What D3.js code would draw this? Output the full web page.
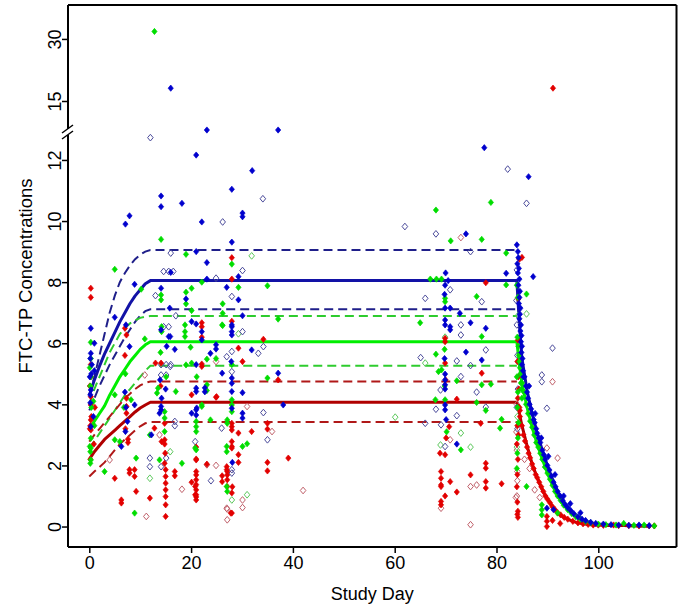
<!DOCTYPE html>
<html><head><meta charset="utf-8">
<script src="https://cdn.jsdelivr.net/npm/d3@7"></script>
<style>body{margin:0;background:#fff}</style>
</head><body>
<svg id="c" width="687" height="612"></svg>
<script>
// ---------- data ----------
const xTicks = [0, 20, 40, 60, 80, 100];
const yTicks = [0, 2, 4, 6, 8, 10, 12, 15, 30];

const riseDays = [0,1,2,3,4,5,6,7,8,9,10,11,12];
const blueMid  = [4.3,4.8,5.25,5.65,6.0,6.35,6.7,7.0,7.3,7.55,7.75,7.95,8.05];
const blueHi   = [4.3,4.9,5.6,6.3,7.0,7.55,8.0,8.3,8.55,8.75,8.9,9.0,9.05];
const blueLo   = [3.8,4.2,4.6,4.95,5.3,5.6,5.9,6.2,6.45,6.7,6.9,7.05,7.11];
const greenMid = [3.2,3.45,3.7,3.95,4.3,4.6,4.9,5.15,5.4,5.6,5.8,5.95,6.05];
const greenHi  = [4.0,4.5,4.9,5.3,5.7,6.0,6.3,6.5,6.65,6.75,6.83,6.87,6.89];
const greenLo  = [2.55,2.8,3.05,3.3,3.55,3.8,4.05,4.3,4.5,4.7,4.9,5.1,5.26];
const redMid   = [2.2,2.45,2.65,2.85,3.0,3.15,3.3,3.45,3.6,3.75,3.88,3.98,4.07];
const redHi    = [2.78,3.0,3.2,3.4,3.6,3.8,4.0,4.2,4.35,4.5,4.62,4.7,4.75];
const redLo    = [1.64,1.8,1.95,2.1,2.3,2.5,2.7,2.85,3.0,3.15,3.28,3.38,3.42];
const plateauEnd = 84;

const decayDays  = [84,84.5,85,86,87,88,89,90,91,92,93,94,95,96,97,98,99,100,102,105,110];
const blueDecay  = [8.05,6.6,5.5,4.45,3.7,3.05,2.5,2.0,1.55,1.15,0.85,0.62,0.45,0.32,0.22,0.15,0.11,0.08,0.05,0.03,0.02];
const greenDecay = [6.05,5.3,4.7,3.9,3.25,2.7,2.2,1.75,1.35,1.0,0.75,0.54,0.4,0.28,0.2,0.14,0.1,0.07,0.04,0.03,0.02];
const redDecay   = [4.07,3.7,3.3,2.65,2.05,1.6,1.2,0.9,0.65,0.45,0.33,0.24,0.17,0.12,0.09,0.07,0.05,0.05,0.03,0.03,0.02];

const blueFilled = [
[16,18.1],[23.1,12.98],[37.1,12.98],[21,12.16],[32,11.65],[28,11.04],[14.1,10.82],[14.1,10.47],[18.2,10.58],[30.1,10.26],[30.1,10.14],[22.1,9.97],[7.9,10.17],[7.1,9.9],[28,9.31],[21,9.0],[23.1,8.64],[16,8.32],[23.1,8.1],[29.3,8.18],[27,7.83],[19,7.45],[29.3,7.42],[30.1,6.9],[20.1,6.71],[21,6.63],[28,6.6],[8.9,7.93],[14.1,7.8],[5.0,6.85],[0.3,6.49],[0.3,5.67],[7.9,5.89],[14.1,6.44],[15.6,6.22],
[22.1,6.38],[22.1,6.11],[28,6.54],[28,6.38],[28,6.27],[16.8,5.8],[24.9,5.95],[24.9,5.81],[23.8,5.67],[31.9,5.78],[21,5.3],[26.1,5.02],[37.1,5.02],[28,4.86],[28,4.69],[28,4.42],[30.1,4.38],[21,4.53],[21,4.42],[38.1,3.98],[20.1,3.71],[21,3.82],[21,3.65],[28,3.87],[30.1,3.71],[30.1,3.55],[15.9,6.22],[22.7,4.54],[22.7,4.41],[21.1,3.88],
[0.3,4.47],[0.3,3.27],[6.3,2.62],[7.1,3.11],[7.5,3.44],[8.9,3.98],[12.2,3.0],[13.8,3.71],[14.1,3.93],[14.1,3.82],[0.2,4.31],[1,5.1],[0.5,5.3],[0.2,4.05],[0.2,5.5],[0.1,4.9],[0.4,5.0],[15.8,7.15],[7.2,6.6],
[7.0,4.4],[7.2,3.9],[13.9,4.8],[14.2,4.2],[15.2,5.9],[15.0,4.5],[27.9,5.4],[28.1,2.1],[69.8,5.5],[70.1,3.5],[69.8,7.6],[70.0,8.3],[1.0,6.0],[0.8,3.6],
[74,9.58],[81.9,8.29],[69.9,7.15],[70.9,7.15],[72.8,6.98],[69.9,6.76],[69.9,6.6],[70.9,6.54],[70.9,6.44],[74.9,6.67],[77.9,6.49],[74,5.71],[77.1,5.45],[69.9,4.99],[69.9,4.8],[69.9,4.64],[69.9,4.5],[69.9,3.98],[69.9,3.82],[72.2,2.7],[77.6,12.4],[86.3,11.45],[87.2,8.18],[84,9.22],[69.9,7.9],[70.5,8.05],
[84.2,9.0],[84.3,8.8],[84.1,8.6],[84.4,8.45],[84.2,8.3],[84.5,8.1],[84.3,7.9],[84.6,7.7],[84.5,7.5],[84.4,7.3],[84.7,7.15],[84.6,6.95],[84.5,6.8],[84.8,6.6],[84.7,6.4],[84.9,6.25],[84.8,6.05],[85,5.9],[84.9,5.7],[85.1,5.5],[85,5.3],[85.2,5.1],[85.3,4.9],
[85.5,4.9],[85.8,4.6],[86,4.4],[86.2,4.2],[86.5,4.0],[86.8,3.85],[87,3.7],[87.3,3.5],[87.5,3.4],[87.8,3.2],[88,3.05],[88.3,2.9],[88.6,2.75],[89,2.5],[89.3,2.35],[89.6,2.2],[90,2.0],[90.4,1.85],[90.8,1.65],[91.2,1.45],[91.6,1.3],[92,1.15],[92.5,1.0],[93,0.85],[93.5,0.72],[94,0.62],[94.6,0.52],[95.2,0.42],[96,0.32],[96.8,0.24],[97.5,0.2],[98.5,0.14],[99.5,0.1],[101,0.08],[102.5,0.06],[104,0.05],[106,0.04],[108,0.05],[110,0.03],
[86.4,4.6],[87.6,3.7],[88.8,2.9],[90.2,2.3],[91.5,1.7],[93.2,1.0],[89.9,0.6],[91.2,0.55],[94.5,0.75],[96.5,0.45]
];
const blueOpen = [
[12,12.73],[34.1,10.73],[26.2,9.97],[16,8.95],[30.1,8.38],[24.9,8.13],[14.6,8.35],[15.6,8.35],[16.5,8.35],[13,7.56],[28,7.53],[17,6.9],[14.6,6.54],[15.6,6.54],[30.1,6.38],[28,5.73],[27,5.56],[33.2,5.67],[34.2,5.89],[15.9,5.24],[28,5.07],[14.1,5.3],[15.1,5.3],[16,5.3],[14.1,4.96],[15.1,4.96],[34.2,3.73],[16.8,3.44],[16.8,3.3],[26,3.22],[35,2.84],[20.8,2.78],[28,1.86],[28,1.75],[23.9,1.5],[11.9,2.24],[11.9,1.96],[15.1,2.24],[14.1,1.96],
[62,9.82],[68.1,9.58],[74.9,9.0],[70.9,7.75],[66,7.47],[77.1,7.36],[73,6.6],[73,6.27],[77.9,5.78],[65.1,5.53],[72.2,5.42],[74.9,5.27],[73,4.91],[76.1,4.4],[69,4.47],[68.1,3.84],[77.9,3.91],[72.2,3.63],[66,3.38],[69.1,3.33],[69.9,2.62],[82.2,11.7],[85.9,10.58],[91,5.84],[88.9,4.96],[88.9,4.74],[89.9,3.87],
[84,8.4],[83.9,7.4],[84,6.6],[84.1,5.6],[84.2,4.5],[84,3.9],[84.1,3.2]
];
const greenFilled = [
[12.8,31.8],[14.1,9.4],[19,8.91],[28,8.59],[29.3,7.83],[22.1,8.0],[35,7.88],[19,7.67],[20.1,7.8],[19,7.29],[26.2,7.29],[20.1,7.07],[26.2,6.98],[37.1,6.79],[26.2,6.58],[5.0,8.42],[10.2,7.77],[14.1,7.58],[14.1,7.42],[0.3,6.03],[10.9,6.14],[14.2,6.54],[14.2,6.38],[18.8,6.6],[18.8,6.38],[18.8,6.22],[26.1,6.6],[19.9,5.87],[24.9,5.5],[20.1,5.35],[19,5.29],[23.1,5.48],[35,4.86],[17,4.42],[23.1,4.64],[23.1,4.45],[28,4.15],[28,3.98],[28,3.76],[22.1,3.93],[21,3.44],[21,3.27],[21,3.11],[23.8,3.49],[27.1,3.49],[27.1,3.38],[20.8,2.57],[27,2.62],[27,2.45],[30.1,2.62],[31,2.71],[18.2,2.07],[27.1,1.15],[22.1,3.98],[21,2.51],[27,1.31],
[0.3,2.89],[0.3,2.57],[0.3,2.18],[0.2,2.07],[0.1,2.62],[0.2,2.45],[3.0,1.8],[6.0,2.78],[8.9,0.44],[9.2,2.24],[5,2.84],[5,4.31],[8.2,4.15],[11.9,3.0],[13.3,4.37],[13.5,4.53],[14.8,3.76],[14.8,3.55],[14.8,3.11],[13.8,2.18],[0.3,4.9],[0.3,5.5],[0.1,5.2],[0.2,4.6],[0.4,3.9],
[7.1,5.0],[6.8,3.9],[14.0,5.7],[15.1,4.9],[28.0,5.3],[21.1,4.9],[69.8,4.6],[70.2,3.1],[69.8,5.8],[0.8,4.1],[1.0,3.3],
[78.9,10.61],[68.1,10.36],[71,9.35],[77.1,9.4],[81.9,8.95],[67,8.1],[68.2,8.1],[69.2,8.1],[81.9,7.91],[69.9,7.47],[69.9,7.36],[76.1,7.53],[65,6.67],[77.1,6.22],[68.1,5.64],[69.2,5.13],[68.6,5.07],[72.2,4.77],[77.1,4.64],[78.9,4.66],[69.9,4.15],[68,4.15],[76.1,4.06],[77.9,3.8],[81,3.51],[73,2.51],[80.7,3.22],[85.9,7.61],
[84,7.9],[84.2,7.5],[84.1,6.2],[84.3,5.9],[84.4,5.6],[84.5,5.4],[84.6,5.2],[84,4.9],[84.7,5.0],[84.8,4.7],[84.2,4.4],[84.9,4.5],[84.1,3.9],[85,4.2],[84.3,3.4],[84.2,2.9],[84.1,2.4],[84,1.9],
[85,4.7],[85.4,4.4],[85.8,4.0],[86.2,3.7],[86.6,3.45],[87,3.25],[87.4,3.0],[87.8,2.75],[88.2,2.6],[88.6,2.4],[89,2.2],[89.5,1.95],[90,1.75],[90.5,1.55],[91,1.35],[91.5,1.15],[92,1.0],[92.6,0.85],[93.2,0.7],[94,0.55],[94.8,0.42],[95.6,0.32],[96.5,0.24],[97.5,0.17],[98.5,0.12],[100,0.08],[101.5,0.06],[103.5,0.05],[105,0.1],[107,0.04],[109,0.05],[111,0.02],
[88.9,0.71],[88.9,0.55],[88.9,0.38],[92,0.44],[85.9,1.31]
];
const greenOpen = [
[31.9,8.86],[29.3,6.31],[11.9,1.58],[15.9,2.45],[28,0.87],[31,1.04],[69.9,6.2],[66,5.35],[60.1,3.58],[73,3.06],[69,2.67],[74.9,2.6],[85.9,6.96],[84.2,6.9],[84.1,3.6],[84,2.6]
];
const redFilled = [
[91.1,18.1],[28,8.8],[28,8.1],[0.3,7.8],[0.3,7.5],[7.3,6.27],[22.1,6.54],[22.1,6.67],[22.1,6.2],[28,6.72],[34.2,6.13],[29.3,5.84],[13,5.35],[14.1,5.35],[22.1,5.32],[22.1,5.24],[30.1,5.4],[37.1,4.8],[20.1,4.31],[24.9,4.23],[28,3.38],[28,3.27],[28,3.16],[31.9,3.11],[35,3.38],[35,3.19],[29.3,3.06],[28,2.78],[28,2.62],[28,2.57],[29.3,2.35],[21,2.18],[23.1,2.04],[29.3,2.1],[35,2.1],[35,1.82],[39.1,2.24],[16.8,1.8],[16.8,1.66],[21,1.8],[21,1.69],[21,1.53],[21,1.37],[21,1.2],[21,1.04],[21,0.97],[21,0.87],[20.1,1.45],[26.1,1.66],[27.1,1.8],[27.1,1.69],[27.1,1.31],[27.1,1.53],[28,0.44],[26.1,1.47],[27,1.96],[27,1.86],[27.8,0.44],[21,2.21],[20.8,1.31],[20.8,1.04],[25,4.25],
[0.3,4.9],[0.3,4.25],[0.3,3.98],[0.3,3.49],[0.3,3.16],[0.2,3.3],[0.2,2.2],[0.1,3.2],[5.0,1.58],[6.3,0.87],[6.3,0.77],[7.9,1.86],[7.9,1.75],[8.9,1.86],[8.9,1.64],[9.2,1.15],[11.9,0.93],[7.3,4.2],[7.3,3.93],[7.3,3.71],[7.6,2.86],[7.6,2.75],[12.8,3.22],[14.8,3.38],[14.8,2.84],[14.8,2.7],[14.8,2.07],[15,1.86],[15,1.64],[15,1.42],[15,1.2],[15,0.98],[15,0.71],[15,0.33],[14.2,2.78],[7.0,6.49],[0.3,5.3],[0.1,4.6],[0.4,3.6],
[7.0,5.6],[7.1,3.2],[14.0,4.6],[14.9,2.4],[28,1.1],[28.1,1.3],[21.0,2.6],[70,4.8],[69.9,1.0],[70.1,2.9],[0.9,2.7],[1.1,3.9],
[77.9,7.98],[69.9,6.16],[69.9,6.05],[69.9,5.35],[77.1,5.02],[72.2,4.17],[70.7,3.27],[76.9,3.38],[68.9,2.4],[69.9,2.35],[69.1,1.8],[69.1,1.58],[69.1,1.36],[69.1,1.31],[70.9,1.47],[72.2,1.13],[74.9,1.69],[77.9,2.07],[77.9,1.91],[77.9,1.47],[77.9,1.26],[81,1.4],[69.1,0.82],[69.1,0.71],[85,8.81],
[84.5,8.75],[84.3,7.45],[84.2,6.1],[84.1,5.4],[84.3,4.9],[84.4,4.5],[84.2,4.2],[84.5,3.9],[84.6,3.6],[84.1,3.3],[84.3,3.0],[84,2.7],[84.2,2.2],[84.1,1.7],[84,1.3],[84.1,0.8],[84.2,0.5],[84.1,0.4],[84.2,0.3],
[84.6,3.8],[85,3.3],[85.3,3.0],[85.6,2.8],[86,2.6],[86.3,2.4],[86.6,2.25],[87,2.05],[87.3,1.9],[87.7,1.7],[88,1.6],[88.4,1.45],[88.8,1.3],[89.2,1.15],[89.6,1.0],[90,0.9],[90.5,0.78],[91,0.65],[91.5,0.55],[92,0.45],[92.6,0.38],[93.3,0.3],[94,0.24],[95,0.17],[96,0.12],[97,0.09],[98,0.07],[99,0.05],[100,0.05],[101,0.04],[103,0.05],[104,0.03],[106,0.03],[108,0.02],[110,0.02],[111,0.02],
[89.9,0.33],[89.9,0.17],[89.9,0.0],[91,0.2],[92.5,0.1]
];
const redOpen = [
[13.8,3.0],[10.9,4.96],[4.0,2.18],[11.2,0.33],[24.9,5.4],[31,3.93],[35.9,3.11],[24.9,2.0],[18.2,1.22],[42,1.18],[30.1,0.87],[30.1,0.62],[27.1,0.57],[27.1,0.22],[23.1,2.02],[27,0.6],[73,9.46],[70.9,2.84],[74.9,1.31],[76.1,1.36],[69.1,0.6],[74.9,0.06],[91,4.74],[89.9,2.57],[92,2.24],
[84,4.0],[83.9,3.1],[84,2.5],[84.1,1.8],[84,1.0],[83.8,0.95],[84.1,1.5],[85.5,2.2],[86.5,1.9],[87.5,1.2],[88.5,0.95]
];

// ---------- layout ----------
const L = 68, R = 676.5, T = 5, B = 547;
const svg = d3.select("#c");
const font = "'Liberation Sans', Arial, Helvetica, sans-serif";

const x = d3.scaleLinear().domain([0, 100]).range([89.3, 598.3]);
const y = d3.scaleLinear().domain([-0.67, 13, 15, 38.2]).range([B, 129.4, 101, T]);

svg.append("defs").append("clipPath").attr("id", "clip")
  .append("rect").attr("x", L).attr("y", T).attr("width", R - L).attr("height", B - T);

const plot = svg.append("g").attr("clip-path", "url(#clip)");

// lines (drawn first; points sit on top)
const line = d3.line().x(d => x(d[0])).y(d => y(d[1]));
function solidPath(rise, decay) {
  const p = riseDays.map((d, i) => [d, rise[i]]);
  decayDays.forEach((d, i) => p.push([d, decay[i]]));
  return p;
}
function dashPath(arr) {
  const p = riseDays.map((d, i) => [d, arr[i]]);
  p.push([plateauEnd, arr[arr.length - 1]]);
  return p;
}
const dashed = [
  [blueHi, "#1f1f8a"], [blueLo, "#1f1f8a"],
  [greenHi, "#2ecc2e"], [greenLo, "#2ecc2e"],
  [redHi, "#b01818"], [redLo, "#b01818"]
];
dashed.forEach(([arr, c]) => {
  plot.append("path").attr("d", line(dashPath(arr))).attr("fill", "none")
    .attr("stroke", c).attr("stroke-width", 2).attr("stroke-dasharray", "9,5");
});
const solids = [
  [blueMid, blueDecay, "#1212a6"],
  [greenMid, greenDecay, "#00ee00"],
  [redMid, redDecay, "#b00000"]
];
solids.forEach(([r, dc, c]) => {
  plot.append("path").attr("d", line(solidPath(r, dc))).attr("fill", "none")
    .attr("stroke", c).attr("stroke-width", 3).attr("stroke-linejoin", "round");
});

// diamond symbol
const diamond = { draw(ctx, s) { const w = s, h = s * 1.2;
  ctx.moveTo(0, -h); ctx.lineTo(w, 0); ctx.lineTo(0, h); ctx.lineTo(-w, 0); ctx.closePath(); } };
const symF = d3.symbol().type(diamond).size(2.6)();
const symO = d3.symbol().type(diamond).size(2.8)();

function pts(data, color, open) {
  plot.append("g").selectAll("path").data(data).join("path")
    .attr("d", open ? symO : symF)
    .attr("transform", d => `translate(${x(d[0])},${y(d[1])})`)
    .attr("fill", open ? "none" : color)
    .attr("stroke", color)
    .attr("stroke-width", open ? 1 : 0.7);
}
pts(redOpen, "#c0606a", true);
pts(greenOpen, "#5cc85c", true);
pts(blueOpen, "#4b4b9b", true);
pts(redFilled, "#e20000", false);
pts(greenFilled, "#00dd00", false);
pts(blueFilled, "#0000cd", false);

// ---------- axes ----------
const xa = svg.append("g").attr("transform", `translate(0,${B})`)
  .call(d3.axisBottom(x).tickValues(xTicks).tickSize(6).tickPadding(3));
xa.select(".domain").remove();
xa.selectAll(".tick line").attr("stroke", "#000").attr("stroke-width", 1.5);
xa.selectAll(".tick text").attr("font-family", font).attr("font-size", 18).attr("fill", "#000");

const ya = svg.append("g").attr("transform", `translate(${L},0)`)
  .call(d3.axisLeft(y).tickValues(yTicks).tickSize(6));
ya.select(".domain").remove();
ya.selectAll(".tick line").attr("stroke", "#000").attr("stroke-width", 1.5);
ya.selectAll(".tick text").attr("x", null).attr("dy", null)
  .attr("transform", "translate(-7,0) rotate(-90)")
  .attr("text-anchor", "middle")
  .attr("font-family", font).attr("font-size", 18).attr("fill", "#000");

// box with break on the left side
const box = svg.append("g").attr("stroke", "#000").attr("stroke-width", 2).attr("fill", "none");
box.append("line").attr("x1", L).attr("x2", R).attr("y1", T).attr("y2", T);
box.append("line").attr("x1", R).attr("x2", R).attr("y1", T).attr("y2", B);
box.append("line").attr("x1", L).attr("x2", R).attr("y1", B).attr("y2", B);
box.append("line").attr("x1", L).attr("x2", L).attr("y1", T).attr("y2", 129);
box.append("line").attr("x1", L).attr("x2", L).attr("y1", 135).attr("y2", B);
box.append("line").attr("x1", 62).attr("x2", 73).attr("y1", 133).attr("y2", 125).attr("stroke-width", 1.5);
box.append("line").attr("x1", 62).attr("x2", 73).attr("y1", 139).attr("y2", 131).attr("stroke-width", 1.5);

// labels
svg.append("text").attr("x", (L + R) / 2).attr("y", 600).attr("text-anchor", "middle")
  .attr("font-family", font).attr("font-size", 18).text("Study Day");
svg.append("text").attr("transform", `translate(32,${(T + B) / 2}) rotate(-90)`)
  .attr("text-anchor", "middle").attr("font-family", font).attr("font-size", 18.5)
  .text("FTC-TP Concentrations");
</script>
</body></html>
